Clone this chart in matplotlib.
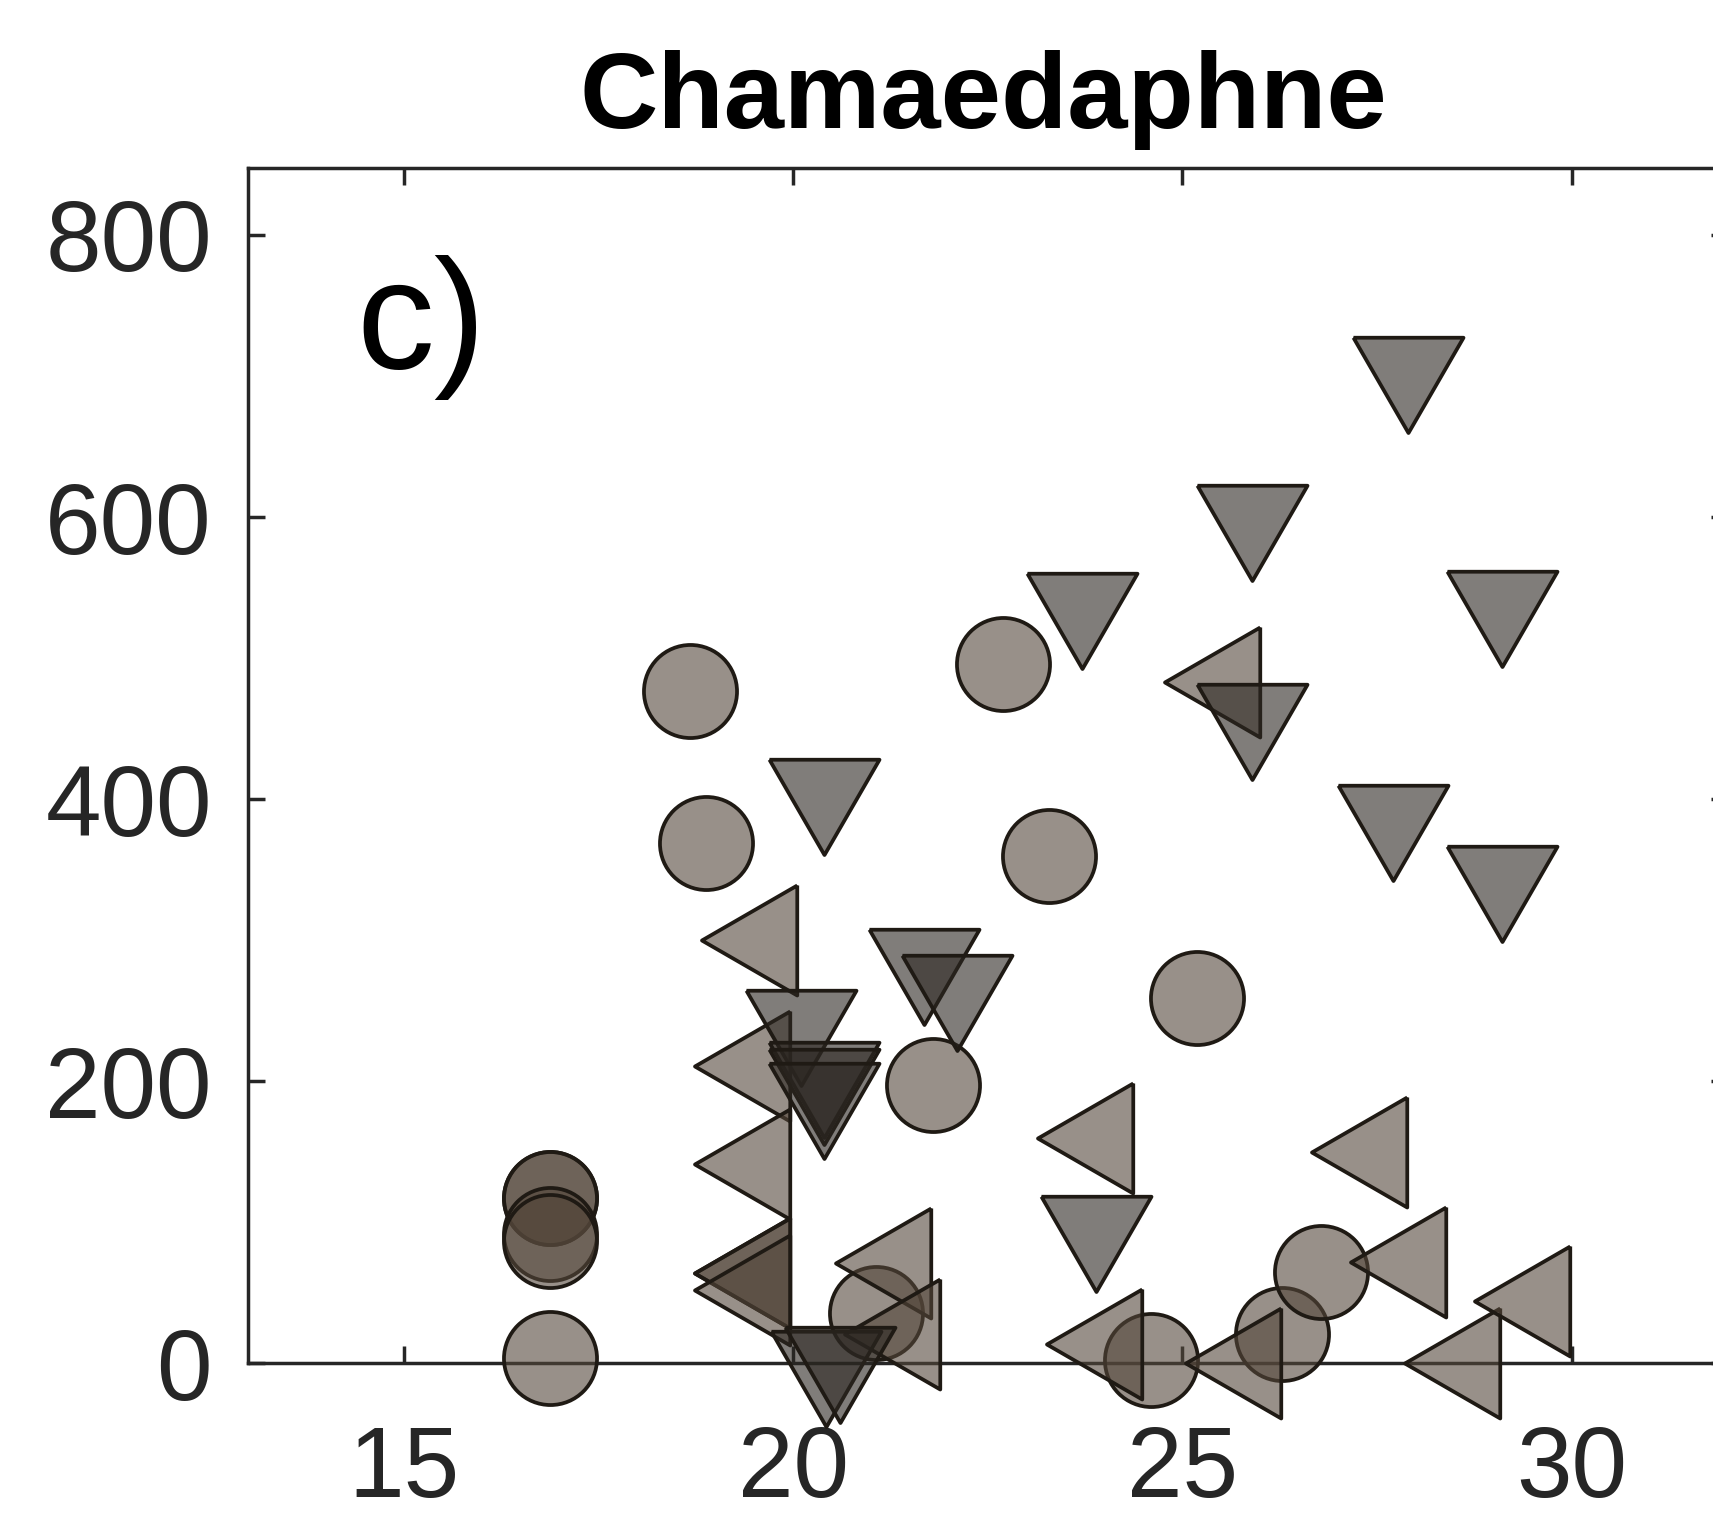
import numpy as np
import matplotlib
matplotlib.use('Agg')
import matplotlib.pyplot as plt

# ---- data ----
circ_x = [18.68, 18.88, 22.70, 23.29, 25.19, 21.79, 16.88, 16.88, 16.88, 16.88, 16.88, 21.07, 24.60, 26.28, 26.78]
circ_y = [477, 369, 496, 360, 259, 197, 4, 117, 117, 92, 87, 36, 2, 21, 65]

left_x = [19.64, 25.58, 19.55, 19.55, 19.55, 19.55, 19.55, 21.36, 21.48, 23.95, 24.07, 25.86, 27.47, 27.97, 28.66, 29.56]
left_y = [300, 483, 211, 141, 64, 64, 52, 71, 21, 160, 14, 0, 150, 72, 0, 44]

down_x = [27.90, 25.89, 23.71, 29.10, 25.89, 20.40, 27.70, 29.10, 21.68, 22.10, 20.10, 20.40, 20.40, 20.40, 23.89, 20.42, 20.60]
down_y = [705, 600, 538, 539, 459, 406, 387, 344, 285, 267, 242, 205, 200, 190, 96, 0, 3]

x_ticks = [15, 20, 25, 30]
y_ticks = [0, 200, 400, 600, 800]
title = "Chamaedaphne"
panel = "c)"

# ---- style ----
plt.rcParams['font.family'] = ['Liberation Sans', 'DejaVu Sans']
axc = (0.15, 0.15, 0.15)
edge = (0.12, 0.10, 0.08, 1.0)
light_face = (0.325, 0.275, 0.227, 0.6)
dark_face = (0.17, 0.15, 0.13, 0.6)

h = np.sqrt(3) / 2
down_marker = [(-0.5, h / 3), (0.5, h / 3), (0.0, -2 * h / 3), (-0.5, h / 3)]
left_marker = [(h / 3, 0.5), (h / 3, -0.5), (-2 * h / 3, 0.0), (h / 3, 0.5)]

W, H = 1713, 1523
fig = plt.figure(figsize=(W / 100, H / 100), dpi=100)
fig.patch.set_facecolor('white')

ax_left, ax_right = 248, 1727.6
ax_top, ax_bot = 168, 1363.3
ax = fig.add_axes([ax_left / W, (H - ax_bot) / H, (ax_right - ax_left) / W, (ax_bot - ax_top) / H])

lw = 2.7
s_circ = 67.0 ** 2
s_tri = 91.5 ** 2

ax.scatter(circ_x, circ_y, s=s_circ, marker='o', facecolors=[light_face], edgecolors=[edge],
           linewidths=lw, clip_on=False, zorder=3)
ax.scatter(left_x, left_y, s=s_tri, marker=left_marker, facecolors=[light_face], edgecolors=[edge],
           linewidths=lw, clip_on=False, zorder=3)
ax.scatter(down_x, down_y, s=s_tri, marker=down_marker, facecolors=[dark_face], edgecolors=[edge],
           linewidths=lw, clip_on=False, zorder=3)

ax.set_xlim(13, 32)
ax.set_ylim(0, 847.5)
ax.set_xticks(x_ticks)
ax.set_yticks(y_ticks)
ax.set_xticklabels([str(t) for t in x_ticks])
ax.set_yticklabels([str(t) for t in y_ticks])

for sp in ax.spines.values():
    sp.set_color(axc)
    sp.set_linewidth(2.5)
    sp.set_zorder(2)

ax.tick_params(axis='both', which='major', direction='in', length=12, width=2.5,
               top=True, right=True, colors=axc, labelsize=72)
ax.tick_params(axis='x', pad=44)
ax.tick_params(axis='y', pad=26)

ax.text(0.0734, 0.8327, panel, transform=ax.transAxes, fontsize=112,
        ha='left', va='baseline', color='black')

fig.text(983 / W, 1 - 127.5 / H, title, fontsize=78, fontweight='bold',
         ha='center', va='baseline', color='black')

fig.savefig('out.png', dpi=100, facecolor='white')
